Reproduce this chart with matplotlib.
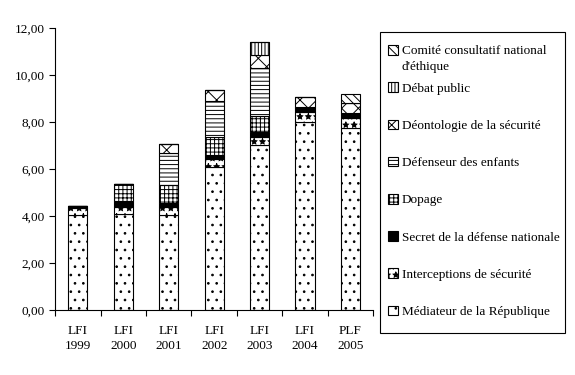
import numpy as np
import matplotlib
matplotlib.use("Agg")
import matplotlib.pyplot as plt
from matplotlib.patches import Patch, Rectangle

plt.rcParams["font.family"] = ["Liberation Serif", "DejaVu Serif"]
plt.rcParams["hatch.linewidth"] = 0.7

labels = ["LFI\n1999", "LFI\n2000", "LFI\n2001", "LFI\n2002", "LFI\n2003", "LFI\n2004", "PLF\n2005"]

mediateur = [4.04, 4.11, 4.04, 6.07, 7.01, 7.99, 7.74]
interceptions = [0.30, 0.26, 0.33, 0.34, 0.37, 0.44, 0.42]
secret = [0.07, 0.28, 0.20, 0.19, 0.21, 0.22, 0.21]
dopage = [0, 0.71, 0.76, 0.78, 0.68, 0, 0]
defenseur = [0, 0, 1.34, 1.51, 2.04, 0, 0]
deontologie = [0, 0, 0.42, 0.47, 0.54, 0.43, 0.45]
debat = [0, 0, 0, 0, 0.58, 0, 0]
comite = [0, 0, 0, 0, 0, 0, 0.36]

series = [
    ("Médiateur de la République", mediateur, "white", ".."),
    ("Interceptions de sécurité", interceptions, "white", "**"),
    ("Secret de la défense nationale", secret, "black", None),
    ("Dopage", dopage, "white", "++++"),
    ("Défenseur des enfants", defenseur, "white", "----"),
    ("Déontologie de la sécurité", deontologie, "white", "xx"),
    ("Débat public", debat, "white", "|||||"),
    ("Comité consultatif national", comite, "white", "\\\\\\\\"),
]
comite_suite = "d'éthique"  # second line of the Comité label

yticks = [0, 2, 4, 6, 8, 10, 12]
ytick_labels = ["0,00", "2,00", "4,00", "6,00", "8,00", "10,00", "12,00"]

fig = plt.figure(figsize=(5.75, 3.75), dpi=100)
ax = fig.add_axes([0.096, 0.173, 0.553, 0.752])

x = np.arange(len(labels))
bottom = np.zeros(len(labels))
handles = []
for name, vals, fc, hatch in series:
    vals = np.array(vals)
    ax.bar(x, vals, 0.42, bottom=bottom, color=fc, edgecolor="black",
           linewidth=0.8, hatch=hatch)
    bottom += vals
    handles.append(Patch(facecolor=fc, edgecolor="black", linewidth=0.8,
                         hatch=hatch, label=name))

ax.set_xlim(-0.5, 6.5)
ax.set_ylim(0, 12)
ax.set_yticks(yticks)
ax.set_yticklabels(ytick_labels, fontsize=9.5)
ax.set_xticks(x)
ax.set_xticklabels(labels, fontsize=9.5, linespacing=1.3)
ax.tick_params(axis="x", which="major", length=0, pad=11)
ax.set_xticks(np.arange(-0.5, 7, 1), minor=True)
ax.tick_params(axis="x", which="minor", length=4, direction="out", width=0.8)
ax.tick_params(axis="y", length=4, width=0.8)
ax.spines["top"].set_visible(False)
ax.spines["right"].set_visible(False)
for s in ["left", "bottom"]:
    ax.spines[s].set_linewidth(0.8)

# legend box drawn separately so its height can follow the original
fig.patches.append(Rectangle((0.661, 0.112), 0.322, 0.803, transform=fig.transFigure,
                             facecolor="white", edgecolor="black", linewidth=0.8,
                             zorder=0))

leg = fig.legend(handles[::-1], [h.get_label() for h in handles[::-1]],
                 loc="upper left", bbox_to_anchor=(0.661, 0.901),
                 fontsize=9.5, frameon=False,
                 handlelength=0.75, handleheight=0.75, handletextpad=0.3,
                 labelspacing=1.88, borderpad=0.6, borderaxespad=0)

# second line of the Comité label, just under the first one
fig.canvas.draw()
bb = leg.get_texts()[0].get_window_extent()
fig.text(bb.x0 / fig.bbox.width, (bb.y0 - 16) / fig.bbox.height, comite_suite,
         fontsize=9.5, va="bottom", ha="left", zorder=10)

fig.savefig("out.png", dpi=100)
